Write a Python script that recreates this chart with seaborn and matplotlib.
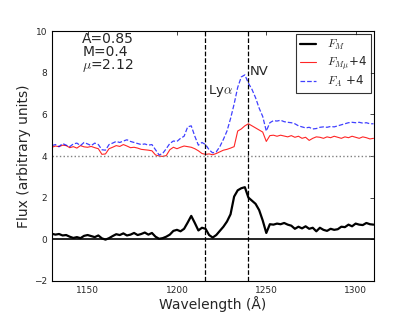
import numpy as np
import pandas as pd
import matplotlib
matplotlib.use("Agg")
import matplotlib.pyplot as plt
import seaborn as sns

wave = np.arange(1130, 1311, 2)

f_m = [0.26, 0.22, 0.25, 0.18, 0.2, 0.12, 0.06, 0.1, 0.05, 0.16,
       0.2, 0.15, 0.1, 0.18, 0.04, -0.02, 0.05, 0.15, 0.24, 0.2,
       0.28, 0.18, 0.22, 0.3, 0.2, 0.25, 0.32, 0.22, 0.3, 0.12,
       0.02, 0.05, 0.12, 0.22, 0.4, 0.45, 0.38, 0.5, 0.8, 1.12,
       0.78, 0.42, 0.55, 0.5, 0.2, 0.08, 0.2, 0.4, 0.6, 0.85,
       1.2, 2.05, 2.35, 2.45, 2.5, 2.0, 1.85, 1.7, 1.4, 0.9,
       0.3, 0.72, 0.7, 0.75, 0.72, 0.78, 0.7, 0.65, 0.5, 0.6,
       0.52, 0.62, 0.5, 0.55, 0.38, 0.55, 0.45, 0.4, 0.5, 0.45,
       0.48, 0.6, 0.58, 0.7, 0.62, 0.75, 0.7, 0.68, 0.78, 0.72,
       0.7]

f_mmu = [4.42, 4.48, 4.45, 4.52, 4.5, 4.4, 4.45, 4.38, 4.5, 4.44,
         4.42, 4.46, 4.4, 4.35, 4.08, 4.1, 4.35, 4.42, 4.5, 4.46,
         4.55, 4.48, 4.4, 4.42, 4.38, 4.32, 4.3, 4.28, 4.25, 4.05,
         4.0, 3.98, 4.02, 4.3, 4.42, 4.35, 4.42, 4.48, 4.45, 4.42,
         4.35, 4.25, 4.12, 4.08, 4.1, 4.06, 4.12, 4.2, 4.28, 4.32,
         4.38, 4.45, 5.2, 5.3, 5.45, 5.55, 5.45, 5.35, 5.25, 5.15,
         4.7, 4.98, 5.0, 4.95, 5.0, 4.96, 4.92, 4.98, 4.9, 4.95,
         4.85, 4.9, 4.75, 4.85, 4.92, 4.9, 4.85, 4.92, 4.88, 4.95,
         4.9, 4.85, 4.92, 4.88, 4.95, 4.9, 4.85, 4.92, 4.88, 4.82,
         4.85]

f_a = [4.5, 4.55, 4.45, 4.6, 4.52, 4.45, 4.58, 4.62, 4.5, 4.65,
       4.58, 4.5, 4.62, 4.55, 4.3, 4.28, 4.55, 4.62, 4.7, 4.65,
       4.72, 4.78, 4.7, 4.65, 4.6, 4.55, 4.58, 4.52, 4.55, 4.3,
       4.05, 4.12, 4.35, 4.6, 4.72, 4.7, 4.85, 4.95, 5.4, 5.45,
       4.95, 4.52, 4.65, 4.55, 4.3, 4.15, 4.2, 4.45, 4.8, 5.2,
       5.8, 6.5, 7.3, 7.8, 7.9, 7.5, 7.2, 6.8, 6.3, 5.9,
       5.2, 5.6, 5.7, 5.68, 5.72, 5.65, 5.62, 5.6, 5.55, 5.45,
       5.4, 5.35, 5.38, 5.3, 5.32, 5.38, 5.4, 5.38, 5.42, 5.4,
       5.45, 5.5, 5.55, 5.6, 5.62, 5.6, 5.62, 5.58, 5.6, 5.55,
       5.55]

lines = [1215.67, 1240.0]
line_names = [r"Ly$\alpha$", "NV"]
params_text = "A=0.85\nM=0.4\n$\\mu$=2.12"

df = pd.DataFrame({"wave": wave, "fm": f_m, "fmmu": f_mmu, "fa": f_a})

sns.set_style("white")
plt.rcParams["mathtext.fontset"] = "cm"
plt.rcParams["xtick.direction"] = "in"
plt.rcParams["ytick.direction"] = "in"
plt.rcParams["xtick.top"] = True
plt.rcParams["ytick.right"] = True

fig, ax = plt.subplots(figsize=(4.15, 3.12), dpi=100)
fig.subplots_adjust(left=0.125, right=0.9, bottom=0.1, top=0.9)

sns.lineplot(data=df, x="wave", y="fm", ax=ax, color="k", lw=1.6, label=r"$F_M$")
sns.lineplot(data=df, x="wave", y="fmmu", ax=ax, color="r", lw=0.8, alpha=0.85, label=r"$F_{M\mu}$+4")
sns.lineplot(data=df, x="wave", y="fa", ax=ax, color="b", lw=0.9, alpha=0.75, ls="--", label=r"$F_A$ +4")

ax.axhline(0, color="k", lw=1.2)
ax.axhline(4, color="gray", lw=1, ls=":")
for w in lines:
    ax.axvline(w, color="k", lw=0.9, ls="--")

ax.text(lines[0] + 1.5, 7.0, line_names[0], fontsize=9.5)
ax.text(lines[1] + 1.0, 7.9, line_names[1], fontsize=9.5)
ax.text(1147, 9.95, params_text, fontsize=10, va="top", linespacing=0.85)

ax.set_xlim(1130, 1310)
ax.set_ylim(-2, 10)
ax.set_xticks([1150, 1200, 1250, 1300])
ax.set_yticks([-2, 0, 2, 4, 6, 8, 10])
ax.tick_params(labelsize=6.5, length=3, width=0.6)
ax.set_xlabel("Wavelength (Å)", fontsize=10, labelpad=1)
ax.set_ylabel("Flux (arbitrary units)", fontsize=10, labelpad=2)
for s in ax.spines.values():
    s.set_color("k")
    s.set_linewidth(0.8)

leg = ax.legend(loc="upper right", fontsize=8.5, frameon=True, fancybox=False,
                borderaxespad=0.2, handlelength=1.4, handletextpad=0.9,
                labelspacing=0.2, borderpad=0.35)
leg.get_frame().set_edgecolor("k")
leg.get_frame().set_linewidth(0.8)

fig.savefig("out.png", dpi=100)
